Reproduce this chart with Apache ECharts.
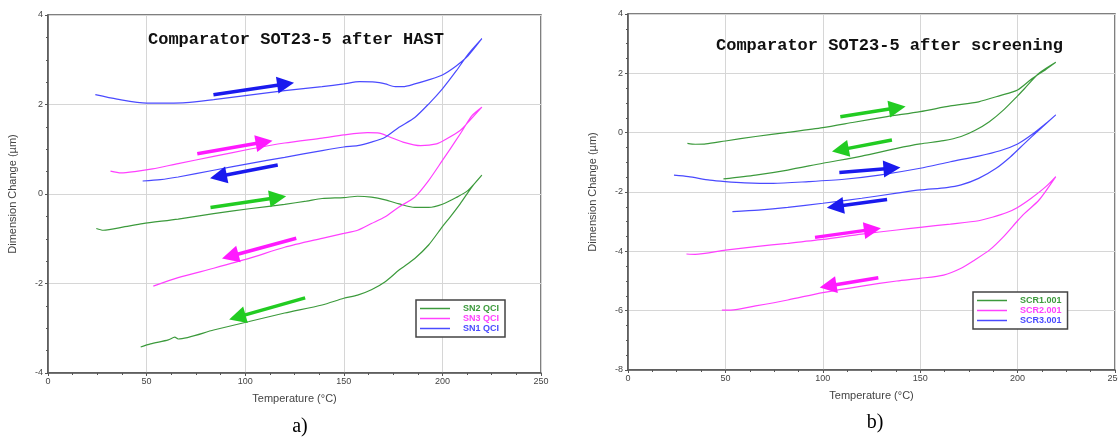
<!DOCTYPE html>
<html>
<head>
<meta charset="utf-8">
<script src="https://cdn.jsdelivr.net/npm/echarts@6/dist/echarts.min.js"></script>
<style>html,body{margin:0;padding:0;background:#fff;}#c{width:1118px;height:437px;}</style>
</head>
<body>
<div id="c"></div>
<script>
// ---- Data: [temperature °C, dimension change µm] (heating then cooling) ----
var sn2 = [[24.5,-0.77],[28,-0.81],[39,-0.73],[48,-0.66],[66,-0.56],[84,-0.44],[102,-0.33],[120,-0.23],[131,-0.16],[139,-0.10],[150,-0.08],[157,-0.05],[164,-0.07],[171,-0.13],[178,-0.22],[186,-0.30],[193,-0.30],[200,-0.23],[207,-0.08],[213,0.08],[220,0.42],
  [215,0.16],[209,-0.22],[204,-0.51],[200,-0.73],[193,-1.14],[186,-1.44],[178,-1.70],[171,-1.96],[164,-2.14],[157,-2.26],[150,-2.33],[139,-2.48],[120,-2.66],[102,-2.85],[84,-3.04],[66,-3.24],[64.3,-3.20],[61,-3.26],[52,-3.35],[47,-3.42]];
var sn3 = [[31.7,0.51],[37,0.47],[44,0.50],[53,0.56],[66,0.68],[84,0.84],[102,1.00],[120,1.14],[139,1.25],[150,1.32],[162,1.37],[168,1.36],[173,1.28],[180,1.16],[189,1.08],[197,1.12],[202,1.23],[209,1.42],[213,1.60],[220,1.94],
  [215,1.75],[209,1.34],[204,1.01],[200,0.75],[193,0.30],[186,-0.07],[178,-0.29],[171,-0.51],[164,-0.66],[157,-0.81],[150,-0.88],[139,-0.99],[120,-1.19],[102,-1.44],[84,-1.66],[66,-1.87],[53.4,-2.06]];
var sn1 = [[24,2.22],[35,2.12],[50,2.03],[61,2.03],[70,2.04],[84,2.11],[102,2.21],[120,2.31],[139,2.40],[150,2.46],[158,2.51],[166,2.50],[171,2.46],[176,2.40],[180,2.40],[186,2.46],[193,2.55],[200,2.66],[207,2.86],[213,3.09],[220,3.47],
  [213,3.12],[207,2.75],[200,2.35],[193,2.01],[186,1.71],[178,1.49],[171,1.27],[164,1.16],[157,1.08],[150,1.05],[139,0.97],[120,0.82],[102,0.68],[84,0.53],[66,0.38],[57,0.32],[48,0.29]];

var scr1 = [[30.5,-0.36],[34.5,-0.39],[40,-0.38],[50,-0.28],[65.5,-0.13],[82,0.01],[100,0.17],[116,0.35],[133,0.54],[150,0.71],[165.5,0.90],[180,1.04],[191,1.25],[200,1.44],[207,1.80],[214.5,2.13],[219.6,2.37],
  [211,2.00],[203.6,1.49],[200,1.24],[192.7,0.76],[185.5,0.37],[178,0.07],[171,-0.13],[162,-0.27],[150,-0.38],[138,-0.53],[120,-0.79],[100,-1.03],[82,-1.26],[65.5,-1.43],[49,-1.56]];
var scr2 = [[30,-4.09],[34.5,-4.10],[50,-3.96],[65.5,-3.84],[82,-3.73],[100,-3.60],[120,-3.42],[138,-3.28],[150,-3.19],[165.5,-3.08],[180,-2.97],[187,-2.85],[194.5,-2.69],[200,-2.52],[207,-2.21],[214.5,-1.82],[219.6,-1.48],
  [211,-2.27],[203.6,-2.72],[200,-2.97],[192.7,-3.51],[185.5,-3.96],[178,-4.29],[171,-4.57],[162,-4.80],[150,-4.91],[138,-5.00],[120,-5.17],[100,-5.39],[82,-5.64],[65.5,-5.84],[52.7,-5.98],[48.2,-5.98]];
var scr3 = [[23.6,-1.43],[31,-1.48],[42,-1.60],[50,-1.65],[60,-1.69],[74.5,-1.71],[92.7,-1.65],[111,-1.57],[129,-1.43],[150,-1.20],[165.5,-0.98],[180,-0.79],[191,-0.61],[200,-0.38],[207,-0.08],[214.5,0.31],[219.6,0.60],
  [211,0.09],[203.6,-0.36],[196.4,-0.81],[189,-1.20],[180,-1.54],[171,-1.76],[163.6,-1.85],[150,-1.93],[138,-2.04],[120,-2.21],[100,-2.38],[82,-2.52],[67,-2.61],[53.6,-2.66]];

// arrow annotations [start, end] in data coordinates
var arrowsSN2 = [[[82.4,-0.30],[116.5,-0.08]],[[130.4,-2.32],[96,-2.75]]];
var arrowsSN3 = [[[75.7,0.90],[109.6,1.16]],[[125.9,-0.99],[92.4,-1.39]]];
var arrowsSN1 = [[[83.9,2.22],[120.5,2.46]],[[116.5,0.65],[86.4,0.39]]];
var arrowsSCR1 = [[[109,0.54],[138.2,0.84]],[[135.5,-0.25],[109,-0.58]]];
var arrowsSCR2 = [[[96,-3.53],[125.5,-3.26]],[[128.5,-4.89],[102.7,-5.17]]];
var arrowsSCR3 = [[[108.5,-1.34],[135.5,-1.20]],[[133,-2.25],[106.4,-2.49]]];

var namesA = ['SN2 QCI','SN3 QCI','SN1 QCI'];
var namesB = ['SCR1.001','SCR2.001','SCR3.001'];
var titleA = 'Comparator SOT23-5 after HAST';
var titleB = 'Comparator SOT23-5 after screening';

var GREEN = '#3c9a3c', MAG = '#ff40ff', BLUE = '#4a4aff';
var AGREEN = '#22cc22', AMAG = '#ff1aff', ABLUE = '#1a1aee';

var sans = 'Liberation Sans, Arial, sans-serif';

function xAx(gi) {
  return {
    type: 'value', gridIndex: gi, min: 0, max: 250, interval: 50,
    name: 'Temperature (\u00B0C)', nameLocation: 'middle', nameGap: 20,
    nameTextStyle: { fontFamily: sans, fontSize: 11, color: '#444' },
    axisLine: { onZero: false, lineStyle: { color: '#555', width: 1.5 } },
    axisTick: { show: true, length: 3, lineStyle: { color: '#555' } },
    minorTick: { show: true, splitNumber: 4, length: 2, lineStyle: { color: '#555' } },
    splitLine: { show: true, lineStyle: { color: '#d6d6d6', width: 1 } },
    axisLabel: { fontFamily: sans, fontSize: 9, color: '#444', margin: 4, showMaxLabel: true, hideOverlap: false }
  };
}
function yAx(gi, mn, mx) {
  return {
    type: 'value', gridIndex: gi, min: mn, max: mx, interval: 2,
    name: 'Dimension Change (\u00B5m)', nameLocation: 'middle', nameGap: 30,
    nameTextStyle: { fontFamily: sans, fontSize: 11, color: '#444' },
    axisLine: { onZero: false, lineStyle: { color: '#555', width: 1.5 } },
    axisTick: { show: true, length: 3, lineStyle: { color: '#555' } },
    minorTick: { show: true, splitNumber: 4, length: 2, lineStyle: { color: '#555' } },
    splitLine: { show: true, lineStyle: { color: '#d6d6d6', width: 1 } },
    axisLabel: { fontFamily: sans, fontSize: 9, color: '#444', margin: 5 }
  };
}
function arrows(list, color) {
  return {
    silent: true, animation: false,
    symbol: ['none', 'triangle'], symbolSize: 17,
    label: { show: false },
    lineStyle: { color: color, width: 3.5, type: 'solid' },
    itemStyle: { color: color },
    emphasis: { disabled: true },
    data: list.map(function (a) { return [{ coord: a[0] }, { coord: a[1] }]; })
  };
}
function ser(name, data, color, gi, arr, acolor) {
  return {
    name: name, type: 'line', xAxisIndex: gi, yAxisIndex: gi, data: data,
    showSymbol: false, smooth: 0.25, animation: false,
    lineStyle: { color: color, width: 1.2 }, itemStyle: { color: color },
    markLine: arrows(arr, acolor)
  };
}
function legend(names, colors, left, top) {
  return {
    orient: 'vertical', left: left, top: top,
    data: names.map(function (n, i) { return { name: n, textStyle: { color: colors[i] } }; }),
    icon: 'rect', itemWidth: 30, itemHeight: 1.5, itemGap: 1,
    padding: [4, 6, 4, 4],
    borderColor: '#444', borderWidth: 1.5, backgroundColor: '#fff',
    textStyle: { fontFamily: sans, fontSize: 9, fontWeight: 'bold', padding: [0, 0, 0, 8] },
    selectedMode: false
  };
}

var option = {
  backgroundColor: '#fff',
  animation: false,
  title: [
    { text: titleA, left: 143, top: 26, textStyle: { fontFamily: 'Liberation Mono, DejaVu Sans Mono, monospace', fontSize: 17, fontWeight: 'bold', color: '#111' } },
    { text: titleB, left: 711, top: 32, textStyle: { fontFamily: 'Liberation Mono, DejaVu Sans Mono, monospace', fontSize: 17, fontWeight: 'bold', color: '#111' } }
  ],
  grid: [
    { left: 48, right: 577, top: 15, bottom: 64, show: true, borderColor: '#555', borderWidth: 1.5, outerBoundsMode: 'none', containLabel: false },
    { left: 628, right: 3, top: 14, bottom: 67, show: true, borderColor: '#555', borderWidth: 1.5, outerBoundsMode: 'none', containLabel: false }
  ],
  legend: [
    legend(namesA, [GREEN, MAG, BLUE], 416, 300),
    legend(namesB, [GREEN, MAG, BLUE], 973, 292)
  ],
  xAxis: [xAx(0), xAx(1)],
  yAxis: [yAx(0, -4, 4), yAx(1, -8, 4)],
  series: [
    ser(namesA[0], sn2, GREEN, 0, arrowsSN2, AGREEN),
    ser(namesA[1], sn3, MAG, 0, arrowsSN3, AMAG),
    ser(namesA[2], sn1, BLUE, 0, arrowsSN1, ABLUE),
    ser(namesB[0], scr1, GREEN, 1, arrowsSCR1, AGREEN),
    ser(namesB[1], scr2, MAG, 1, arrowsSCR2, AMAG),
    ser(namesB[2], scr3, BLUE, 1, arrowsSCR3, ABLUE)
  ],
  graphic: [
    { type: 'text', x: 300, y: 427, style: { text: 'a)', font: '20px Liberation Serif, Times New Roman, serif', fill: '#000', align: 'center', verticalAlign: 'middle' } },
    { type: 'text', x: 875, y: 423, style: { text: 'b)', font: '20px Liberation Serif, Times New Roman, serif', fill: '#000', align: 'center', verticalAlign: 'middle' } }
  ]
};
echarts.init(document.getElementById('c'), null, { renderer: 'canvas' }).setOption(option);
</script>
</body>
</html>
